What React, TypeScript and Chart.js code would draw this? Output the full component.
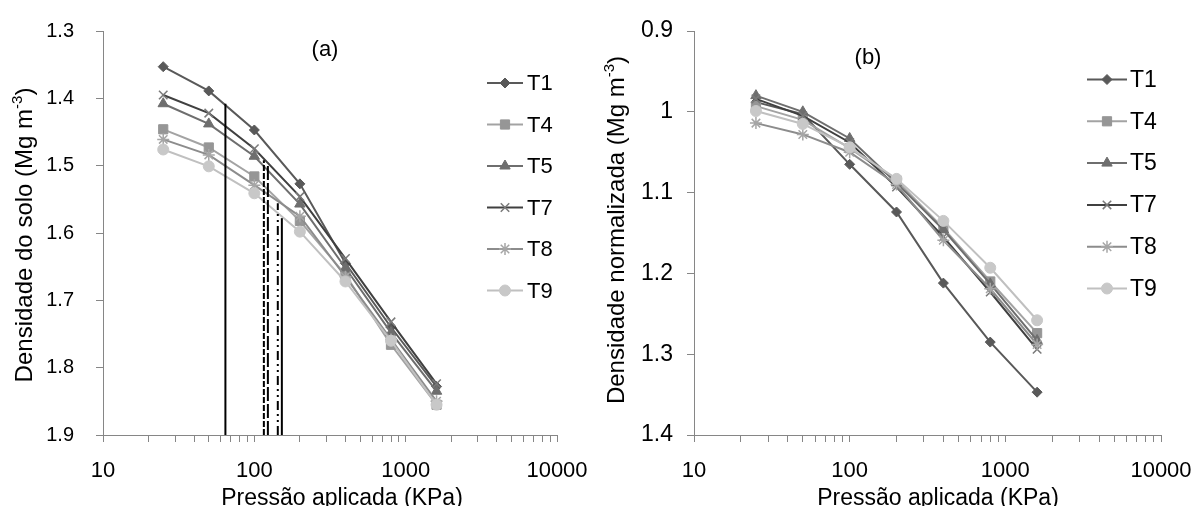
import React, { useEffect, useRef } from 'react';
import { Chart, registerables } from 'chart.js';
import { drawPoint } from 'chart.js/helpers';

Chart.register(...registerables);

// ---------------- DATA ----------------
const PRESSURES = [25, 50, 100, 200, 400, 800, 1600];
const SERIES_NAMES = ['T1', 'T4', 'T5', 'T7', 'T8', 'T9'];

// (a) Densidade do solo (Mg m-3)
const A_T1 = [1.353, 1.389, 1.447, 1.527, 1.645, 1.740, 1.828];
const A_T4 = [1.446, 1.473, 1.516, 1.582, 1.662, 1.766, 1.855];
const A_T5 = [1.408, 1.438, 1.486, 1.557, 1.652, 1.748, 1.835];
const A_T7 = [1.395, 1.422, 1.475, 1.546, 1.638, 1.732, 1.824];
const A_T8 = [1.461, 1.484, 1.529, 1.575, 1.665, 1.758, 1.850];
const A_T9 = [1.476, 1.501, 1.541, 1.598, 1.672, 1.760, 1.855];

// (b) Densidade normalizada (Mg m-3)
const B_T1 = [0.988, 1.003, 1.065, 1.124, 1.212, 1.285, 1.347];
const B_T4 = [0.993, 1.010, 1.045, 1.085, 1.144, 1.210, 1.274];
const B_T5 = [0.980, 1.000, 1.033, 1.088, 1.146, 1.213, 1.283];
const B_T7 = [0.984, 1.005, 1.038, 1.093, 1.155, 1.223, 1.294];
const B_T8 = [1.014, 1.028, 1.050, 1.090, 1.159, 1.219, 1.288];
const B_T9 = [0.999, 1.015, 1.044, 1.083, 1.135, 1.193, 1.258];

// vertical reference lines in (a): pressure and top density
const REF_LINES_X = [64.4, 115.6, 122.9, 142.9, 152];
const REF_LINES_TOP = [1.408, 1.492, 1.499, 1.556, 1.578];

// axes
const X_MAJOR_TICKS = [10, 100, 1000, 10000];
const X_MINOR_MULTIPLIERS = [1, 2, 3, 4, 5, 6, 7, 8, 9];
const A_Y_RANGE = [1.3, 1.9];
const B_Y_RANGE = [0.9, 1.4];
const Y_STEP = 0.1;

const X_TITLE = 'Pressão aplicada (KPa)';
const A_Y_TITLE = [{ t: 'Densidade do solo (Mg m' }, { t: '-3', sup: true }, { t: ')' }];
const B_Y_TITLE = [{ t: 'Densidade normalizada (Mg m' }, { t: '-3', sup: true }, { t: ')' }];

// ---------------- STYLES ----------------
const FONT = '"Liberation Sans", Arial, sans-serif';
const AXIS_COLOR = '#868686';

const SERIES_STYLE: Record<string, any> = {
  T1: { line: '#595959', fill: '#595959', border: '#595959', pointStyle: 'rectRot', radius: 5, bw: 1 },
  T4: { line: '#a3a3a3', fill: '#969696', border: '#969696', pointStyle: 'rect', radius: 6.5, bw: 1 },
  T5: { line: '#6e6e6e', fill: '#6e6e6e', border: '#6e6e6e', pointStyle: 'triangle', radius: 6, bw: 1 },
  T7: { line: '#404040', fill: '#808080', border: '#7a7a7a', pointStyle: 'crossRot', radius: 6, bw: 1.5 },
  T8: { line: '#8c8c8c', fill: '#a6a6a6', border: '#a6a6a6', pointStyle: 'star', radius: 6, bw: 1.5 },
  T9: { line: '#c0c0c0', fill: '#c8c8c8', border: '#c8c8c8', pointStyle: 'circle', radius: 5.5, bw: 1 },
};

const REF_LINE_DASH = [[], [6, 2], [14, 3], [9, 4, 2, 4, 2, 4], []];

function xTickValues() {
  const out: number[] = [];
  for (let i = 0; i < X_MAJOR_TICKS.length - 1; i++) {
    for (const m of X_MINOR_MULTIPLIERS) out.push(X_MAJOR_TICKS[i] * m);
  }
  out.push(X_MAJOR_TICKS[X_MAJOR_TICKS.length - 1]);
  return out;
}

type Seg = { t: string; sup?: boolean };

function drawRich(ctx: CanvasRenderingContext2D, segs: Seg[], x: number, y: number, size: number, rot: number) {
  ctx.save();
  ctx.translate(x, y);
  ctx.rotate(rot);
  ctx.fillStyle = '#000';
  ctx.textBaseline = 'alphabetic';
  const fonts = segs.map((s) => `${s.sup ? Math.round(size * 0.62) : size}px ${FONT}`);
  let total = 0;
  const widths = segs.map((s, i) => {
    ctx.font = fonts[i];
    const w = ctx.measureText(s.t).width;
    total += w;
    return w;
  });
  let cx = -total / 2;
  segs.forEach((s, i) => {
    ctx.font = fonts[i];
    ctx.fillText(s.t, cx, size * 0.36 + (s.sup ? -size * 0.4 : 0));
    cx += widths[i];
  });
  ctx.restore();
}

function makeOverlay(p: any) {
  return {
    id: 'overlay',
    afterDraw(chart: any) {
      const ctx = chart.ctx as CanvasRenderingContext2D;
      drawRich(ctx, p.yTitle, p.yTitlePos[0], p.yTitlePos[1], p.yTitleSize, -Math.PI / 2);
      drawRich(ctx, [{ t: X_TITLE }], p.xTitlePos[0], p.xTitlePos[1], p.xTitleSize, 0);
      drawRich(ctx, [{ t: p.label }], p.labelPos[0], p.labelPos[1], p.labelSize, 0);
      // legend
      const lg = p.legend;
      SERIES_NAMES.forEach((name, i) => {
        const st = SERIES_STYLE[name];
        const y = lg.y0 + i * lg.dy;
        ctx.save();
        ctx.strokeStyle = st.line;
        ctx.lineWidth = 2;
        ctx.beginPath();
        ctx.moveTo(lg.x0, y);
        ctx.lineTo(lg.x1, y);
        ctx.stroke();
        ctx.fillStyle = st.fill;
        ctx.strokeStyle = st.border;
        ctx.lineWidth = st.bw;
        drawPoint(ctx, { pointStyle: st.pointStyle, radius: st.radius, rotation: 0, borderWidth: st.bw } as any, (lg.x0 + lg.x1) / 2, y);
        ctx.restore();
        ctx.save();
        ctx.fillStyle = '#000';
        ctx.font = `${lg.size}px ${FONT}`;
        ctx.textBaseline = 'middle';
        ctx.textAlign = 'left';
        ctx.fillText(name, lg.tx, y + 1);
        ctx.restore();
      });
    },
  };
}

function buildConfig(p: any) {
  const valuesByName: Record<string, number[]> = p.values;
  const datasets: any[] = SERIES_NAMES.map((name, i) => {
    const st = SERIES_STYLE[name];
    return {
      label: name,
      data: PRESSURES.map((x, k) => ({ x, y: valuesByName[name][k] })),
      borderColor: st.line,
      borderWidth: 2,
      backgroundColor: st.fill,
      pointBackgroundColor: st.fill,
      pointBorderColor: st.border,
      pointBorderWidth: st.bw,
      pointStyle: st.pointStyle,
      pointRadius: st.radius,
      tension: 0,
      order: SERIES_NAMES.length - i,
    };
  });
  if (p.refLines) {
    REF_LINES_X.forEach((x, i) => {
      datasets.push({
        label: 'ref' + i,
        data: [
          { x, y: A_Y_RANGE[1] },
          { x, y: REF_LINES_TOP[i] },
        ],
        borderColor: '#000',
        borderWidth: 2,
        borderDash: REF_LINE_DASH[i],
        pointRadius: 0,
        order: -1,
      });
    });
  }
  const ticks = xTickValues();
  return {
    type: 'line',
    data: { datasets },
    plugins: [makeOverlay(p)],
    options: {
      animation: false,
      responsive: false,
      events: [],
      layout: { padding: { left: 0, right: p.padRight, top: p.padTop, bottom: 0 } },
      plugins: { legend: { display: false }, tooltip: { enabled: false } },
      scales: {
        x: {
          type: 'logarithmic',
          position: 'bottom',
          min: 10,
          max: 10000,
          afterBuildTicks: (s: any) => {
            s.ticks = ticks.map((v) => ({ value: v }));
          },
          afterFit: (s: any) => {
            s.height = p.xAxisHeight;
            s.paddingLeft = 0;
            s.paddingRight = 0;
            s.paddingTop = 0;
            s.paddingBottom = 0;
          },
          grid: { display: true, drawOnChartArea: false, drawTicks: true, tickLength: 7, color: AXIS_COLOR, lineWidth: 1 },
          border: { display: true, color: AXIS_COLOR, width: 1 },
          ticks: {
            autoSkip: false,
            maxRotation: 0,
            minRotation: 0,
            padding: p.xTickPad,
            color: '#000',
            font: { family: FONT, size: p.xTickFont },
            callback: (v: any) => (X_MAJOR_TICKS.includes(Number(v)) ? String(v) : ''),
          },
        },
        y: {
          type: 'linear',
          position: 'left',
          reverse: true,
          min: p.yRange[0],
          max: p.yRange[1],
          afterFit: (s: any) => {
            s.width = p.yAxisWidth;
            s.paddingLeft = 0;
            s.paddingRight = 0;
            s.paddingTop = 0;
            s.paddingBottom = 0;
          },
          grid: { display: true, drawOnChartArea: false, drawTicks: true, tickLength: 7, color: AXIS_COLOR, lineWidth: 1 },
          border: { display: true, color: AXIS_COLOR, width: 1 },
          ticks: {
            stepSize: Y_STEP,
            padding: p.yTickPad,
            color: '#000',
            font: { family: FONT, size: p.yTickFont },
            callback: (v: any) => String(Math.round(Number(v) * 10) / 10),
          },
        },
      },
    },
  };
}

const PANEL_A = {
  left: 0,
  width: 600,
  values: { T1: A_T1, T4: A_T4, T5: A_T5, T7: A_T7, T8: A_T8, T9: A_T9 },
  refLines: true,
  yRange: A_Y_RANGE,
  yAxisWidth: 103,
  padRight: 43,
  padTop: 31,
  xAxisHeight: 71,
  yTickFont: 20,
  yTickPad: 22,
  xTickFont: 22,
  xTickPad: 15.5,
  yTitle: A_Y_TITLE,
  yTitlePos: [23, 235],
  yTitleSize: 24,
  xTitlePos: [342, 497],
  xTitleSize: 23,
  label: '(a)',
  labelPos: [325, 48],
  labelSize: 22,
  legend: { x0: 487, x1: 523, tx: 527, y0: 83, dy: 41.5, size: 22 },
};

const PANEL_B = {
  left: 600,
  width: 593,
  values: { T1: B_T1, T4: B_T4, T5: B_T5, T7: B_T7, T8: B_T8, T9: B_T9 },
  refLines: false,
  yRange: B_Y_RANGE,
  yAxisWidth: 94,
  padRight: 32,
  padTop: 31,
  xAxisHeight: 71,
  yTickFont: 23,
  yTickPad: 14,
  xTickFont: 22,
  xTickPad: 15.5,
  yTitle: B_Y_TITLE,
  yTitlePos: [15, 230],
  yTitleSize: 24,
  xTitlePos: [338, 497],
  xTitleSize: 23,
  label: '(b)',
  labelPos: [268, 56],
  labelSize: 22,
  legend: { x0: 487, x1: 527, tx: 530, y0: 79.5, dy: 41.8, size: 23 },
};

export default function App() {
  const refA = useRef<HTMLCanvasElement>(null);
  const refB = useRef<HTMLCanvasElement>(null);

  useEffect(() => {
    const charts: Chart[] = [];
    if (refA.current) charts.push(new Chart(refA.current, buildConfig(PANEL_A) as any));
    if (refB.current) charts.push(new Chart(refB.current, buildConfig(PANEL_B) as any));
    return () => charts.forEach((c) => c.destroy());
  }, []);

  return (
    <div style={{ position: 'absolute', left: 0, top: 0, width: 1193, height: 506, background: '#fff', overflow: 'hidden' }}>
      <canvas ref={refA} width={PANEL_A.width} height={506} style={{ position: 'absolute', left: PANEL_A.left, top: 0 }} />
      <canvas ref={refB} width={PANEL_B.width} height={506} style={{ position: 'absolute', left: PANEL_B.left, top: 0 }} />
    </div>
  );
}
